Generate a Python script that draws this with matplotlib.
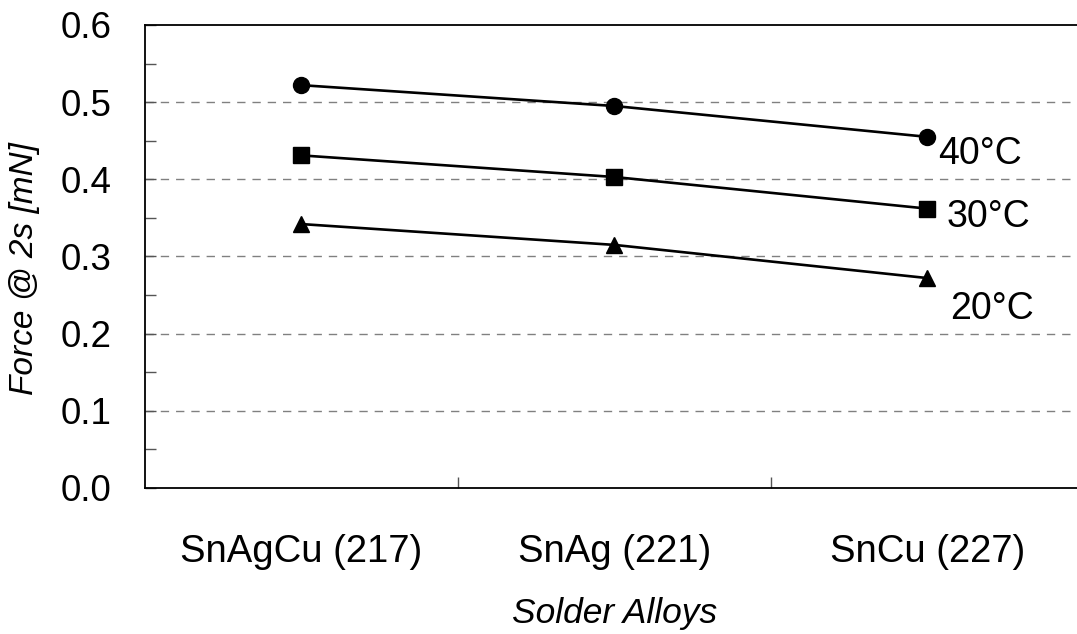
import matplotlib
matplotlib.use("Agg")
import matplotlib.pyplot as plt
from matplotlib.ticker import MultipleLocator, FixedLocator, NullFormatter

plt.rcParams['font.family'] = ['Liberation Sans', 'DejaVu Sans']

alloys = ["SnAgCu (217)", "SnAg (221)", "SnCu (227)"]
temps = ["40°C", "30°C", "20°C"]
force_40 = [0.522, 0.495, 0.455]
force_30 = [0.431, 0.403, 0.362]
force_20 = [0.342, 0.315, 0.272]

series = [force_40, force_30, force_20]
markers = ["o", "s", "^"]
label_offsets = [(8, -12), (14, -6), (16, -22)]

fig = plt.figure(figsize=(10.77, 6.34), dpi=100)
ax = fig.add_axes([0.1346, 0.2303, 0.8719, 0.7303])

x = list(range(len(alloys)))
for vals, m, t, off in zip(series, markers, temps, label_offsets):
    ax.plot(x, vals, color="black", lw=1.9, marker=m, ms=11.5,
            mfc="black", mec="black", zorder=3)
    ax.annotate(t, xy=(x[-1], vals[-1]), xytext=off, textcoords="offset points",
                ha="left", va="center", fontsize=27)

ax.set_xlim(-0.5, 2.5)
ax.set_ylim(0, 0.6)

# y axis: labels every 0.1, small ticks every 0.05
ax.yaxis.set_major_locator(MultipleLocator(0.1))
ax.yaxis.set_minor_locator(MultipleLocator(0.05))
ax.yaxis.set_major_formatter(matplotlib.ticker.FormatStrFormatter("%.1f"))
ax.tick_params(axis="y", which="both", direction="in", length=8, width=1,
               color="#555555", labelsize=26.5, pad=24)

# x axis: tick marks between categories, names centred on each category
ax.xaxis.set_major_locator(FixedLocator([0.5, 1.5]))
ax.xaxis.set_major_formatter(NullFormatter())
ax.xaxis.set_minor_locator(FixedLocator(x))
ax.set_xticks(x, alloys, minor=True)
ax.tick_params(axis="x", which="major", direction="in", length=8, width=1,
               color="#555555")
ax.tick_params(axis="x", which="minor", length=0, labelsize=27.5, pad=33)

for yv in [0.1, 0.2, 0.3, 0.4, 0.5]:
    ax.axhline(yv, color="#808080", lw=1, ls=(0, (6, 5)), zorder=1)

for s in ["left", "bottom", "top"]:
    ax.spines[s].set_color("black")
    ax.spines[s].set_linewidth(1.3)
ax.spines["right"].set_visible(False)

ax.set_ylabel("Force @ 2s [mN]", fontsize=24, style="italic")
ax.yaxis.set_label_coords(-0.112, 0.473)
ax.set_xlabel("Solder Alloys", fontsize=25.5, style="italic")
ax.xaxis.set_label_coords(0.5, -0.235)

fig.savefig("out.png", dpi=100)
